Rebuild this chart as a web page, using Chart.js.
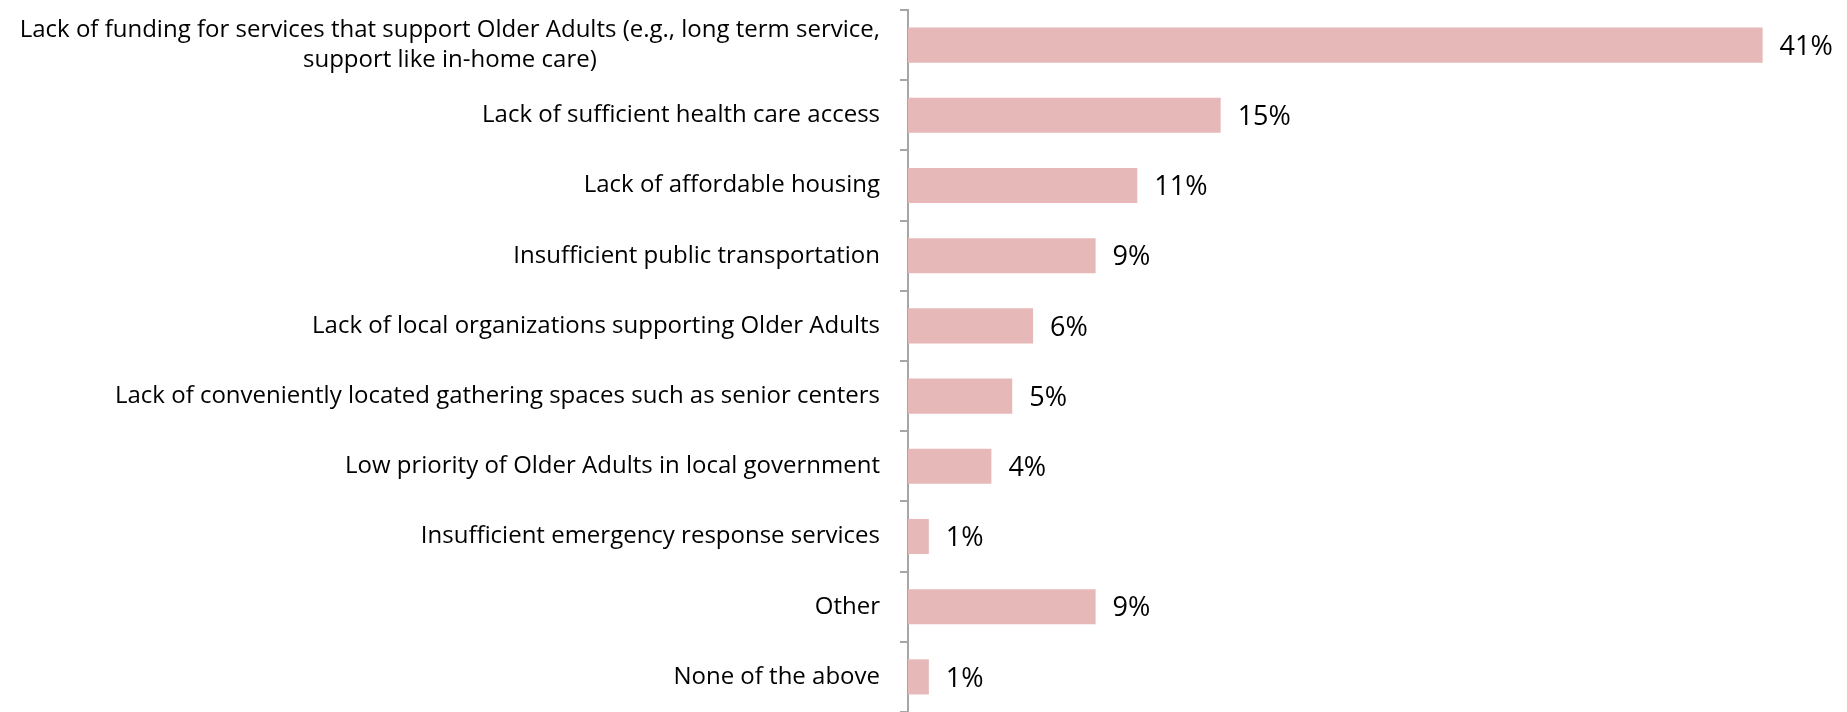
<!DOCTYPE html>
<html>
<head>
<meta charset="utf-8">
<script src="https://cdn.jsdelivr.net/npm/chart.js@4.4.1/dist/chart.umd.min.js"></script>
<style>
  html, body { margin: 0; padding: 0; background: #fff; }
  #wrap { width: 1847px; height: 712px; }
</style>
</head>
<body>
<div id="wrap"><canvas id="issues-chart"></canvas></div>
<script>
const categories = [
  ["Lack of funding for services that support Older Adults (e.g., long term service,", "support like in-home care)"],
  "Lack of sufficient health care access",
  "Lack of affordable housing",
  "Insufficient public transportation",
  "Lack of local organizations supporting Older Adults",
  "Lack of conveniently located gathering spaces such as senior centers",
  "Low priority of Older Adults in local government",
  "Insufficient emergency response services",
  "Other",
  "None of the above"
];
const percents = [41, 15, 11, 9, 6, 5, 4, 1, 9, 1];
const valueLabels = ["41%", "15%", "11%", "9%", "6%", "5%", "4%", "1%", "9%", "1%"];

const labelFont = "24px 'Open Sans'";
const valueFont = "27px 'Open Sans'";
const axisX = 908;

// category labels, right edge near the axis, wrapped lines centered
const categoryLabels = {
  id: 'categoryLabels',
  afterDraw(chart) {
    const ctx = chart.ctx;
    const yScale = chart.scales.y;
    ctx.save();
    ctx.font = labelFont;
    ctx.fillStyle = '#000';
    ctx.textBaseline = 'middle';
    categories.forEach((label, i) => {
      const lines = Array.isArray(label) ? label : [label];
      const y = yScale.getPixelForTick(i);
      const widest = Math.max(...lines.map(l => ctx.measureText(l).width));
      const right = yScale.right - 28;
      const lineH = 30;
      lines.forEach((line, j) => {
        const ly = y + (j - (lines.length - 1) / 2) * lineH;
        ctx.textAlign = 'center';
        ctx.fillText(line, right - widest / 2, ly);
      });
    });
    ctx.restore();
  }
};

// value labels at the end of each bar
const valueLabelPlugin = {
  id: 'valueLabels',
  afterDatasetsDraw(chart) {
    const ctx = chart.ctx;
    const meta = chart.getDatasetMeta(0);
    ctx.save();
    ctx.font = valueFont;
    ctx.fillStyle = '#000';
    ctx.textAlign = 'left';
    ctx.textBaseline = 'middle';
    meta.data.forEach((bar, i) => {
      ctx.fillText(valueLabels[i], bar.x + 17, bar.y + 2);
    });
    ctx.restore();
  }
};

new Chart(document.getElementById('issues-chart'), {
  type: 'bar',
  data: {
    labels: categories,
    datasets: [{
      data: percents,
      backgroundColor: '#E6B8B7',
      borderWidth: 0,
      categoryPercentage: 0.5,
      barPercentage: 1
    }]
  },
  options: {
    indexAxis: 'y',
    responsive: true,
    maintainAspectRatio: false,
    animation: false,
    layout: { padding: { top: 10, bottom: -5, left: 0, right: 1 } },
    plugins: {
      legend: { display: false },
      tooltip: { enabled: false }
    },
    scales: {
      x: {
        display: false,
        min: 0,
        max: 45
      },
      y: {
        afterFit(scale) { scale.width = axisX; },
        ticks: { display: false },
        grid: {
          offset: true,
          drawOnChartArea: false,
          drawTicks: true,
          tickLength: 8,
          color: '#a6a6a6',
          lineWidth: 2
        },
        border: { display: true, color: '#a6a6a6', width: 2 }
      }
    }
  },
  plugins: [categoryLabels, valueLabelPlugin]
});
</script>
</body>
</html>
